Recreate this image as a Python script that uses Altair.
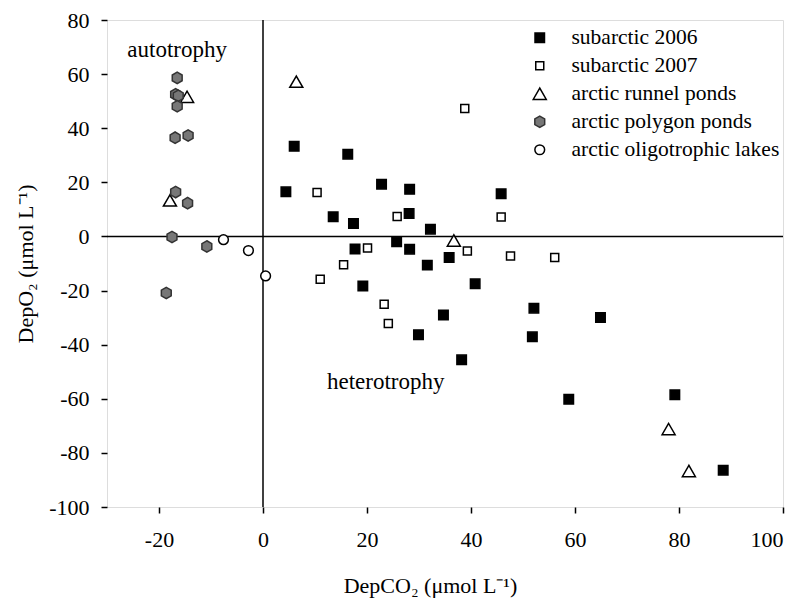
import altair as alt
import pandas as pd

# ---- data ----
series_names = ["subarctic 2006", "subarctic 2007", "arctic runnel ponds",
                "arctic polygon ponds", "arctic oligotrophic lakes"]

s2006_x = [6.0, 16.3, 4.4, 22.8, 28.2, 45.8, 13.5, 17.4, 28.1, 32.2, 25.7, 17.7, 28.2,
           35.8, 31.6, 40.8, 19.2, 34.7, 52.1, 64.9, 51.8, 29.9, 38.2, 58.8, 79.2, 88.5]
s2006_y = [33.3, 30.4, 16.5, 19.3, 17.4, 15.8, 7.3, 4.8, 8.5, 2.7, -2.0, -4.6, -4.7,
           -7.8, -10.6, -17.5, -18.3, -29.0, -26.5, -30.0, -37.1, -36.3, -45.6, -60.2, -58.5, -86.4]

s2007_x = [10.4, 25.8, 45.8, 20.1, 39.3, 47.6, 56.1, 15.5, 11.0, 23.3, 24.1, 38.8]
s2007_y = [16.2, 7.4, 7.2, -4.3, -5.4, -7.2, -7.8, -10.5, -15.8, -25.1, -32.2, 47.3]

runnel_x = [-14.6, -17.9, 6.4, 36.7, 78.0, 81.9]
runnel_y = [51.6, 13.3, 57.2, -1.5, -71.2, -86.7]

polygon_x = [-16.5, -16.8, -16.3, -16.5, -16.9, -14.4, -16.8, -14.5, -17.5, -10.8, -18.6]
polygon_y = [58.6, 52.5, 52.0, 48.1, 36.5, 37.3, 16.4, 12.3, -0.2, -3.7, -20.9]

lakes_x = [-7.6, -2.8, 0.5]
lakes_y = [-1.2, -5.2, -14.6]

x_ticks = [-20, 0, 20, 40, 60, 80, 100]
y_ticks = [-100, -80, -60, -40, -20, 0, 20, 40, 60, 80]

labels_text = ["autotrophy", "heterotrophy"]
labels_x = [-16.5, 23.6]
labels_y = [68.9, -53.9]

# ---- build table ----
rows = []
for name, xs, ys in zip(series_names,
                        [s2006_x, s2007_x, runnel_x, polygon_x, lakes_x],
                        [s2006_y, s2007_y, runnel_y, polygon_y, lakes_y]):
    for xv, yv in zip(xs, ys):
        rows.append({"series": name, "x": xv, "y": yv})
df = pd.DataFrame(rows)

FONT = "Liberation Serif"
FS = 22
W, H = 676, 487

xscale = alt.Scale(domain=[-30, 100], nice=False, zero=False)
yscale = alt.Scale(domain=[-100, 80], nice=False, zero=False)

hexagon = "M0,-1L0.866,-0.5L0.866,0.5L0,1L-0.866,0.5L-0.866,-0.5Z"

legend = alt.Legend(title=None, orient="none", legendX=422, legendY=7,
                    labelFont=FONT, labelFontSize=21.5, labelColor="black",
                    rowPadding=5, labelOffset=21, symbolStrokeWidth=1.5,
                    labelLimit=400)

xaxis = alt.Axis(values=x_ticks, grid=False, domain=False, tickSize=6, tickColor="black",
                 tickWidth=1.5, labelFont=FONT, labelFontSize=FS, labelColor="black",
                 labelPadding=16, labelExpr="'' + datum.value",
                 titleFont=FONT, titleFontSize=FS, titleFontWeight="normal",
                 titleColor="black", titleX=323, titleY=78, titleBaseline="middle",
                 titleAlign="center")
yaxis = alt.Axis(values=y_ticks, grid=False, domain=False, tickSize=6, tickColor="black",
                 tickWidth=1.5, labelFont=FONT, labelFontSize=FS, labelColor="black",
                 labelPadding=12, labelExpr="'' + datum.value",
                 titleFont=FONT, titleFontSize=FS, titleFontWeight="normal",
                 titleColor="black", titleX=-82, titleY=243.5, titleAngle=270,
                 titleBaseline="middle", titleAlign="center")

points = alt.Chart(df).mark_point(filled=True, opacity=1, strokeWidth=1.5).encode(
    x=alt.X("x:Q", scale=xscale, axis=xaxis, title="DepCO₂ (μmol L⁻¹)"),
    y=alt.Y("y:Q", scale=yscale, axis=yaxis, title="DepO₂ (μmol L⁻¹)"),
    shape=alt.Shape("series:N", legend=legend,
                    scale=alt.Scale(domain=series_names,
                                    range=["square", "square", "triangle-up", hexagon, "circle"])),
    fill=alt.Fill("series:N", legend=legend,
                  scale=alt.Scale(domain=series_names,
                                  range=["black", "white", "white", "#777777", "white"])),
    stroke=alt.Stroke("series:N", legend=legend,
                      scale=alt.Scale(domain=series_names,
                                      range=["black", "black", "black", "#333333", "black"])),
    size=alt.Size("series:N", legend=legend,
                  scale=alt.Scale(type="ordinal", domain=series_names,
                                  range=[90, 64, 170, 130, 95])),
)

zero_df_h = pd.DataFrame({"y": [0]})
zero_df_v = pd.DataFrame({"x": [0]})
hline = alt.Chart(zero_df_h).mark_rule(color="black", strokeWidth=1.5).encode(
    y=alt.Y("y:Q", scale=yscale))
vline = alt.Chart(zero_df_v).mark_rule(color="black", strokeWidth=1.5).encode(
    x=alt.X("x:Q", scale=xscale))

text_df = pd.DataFrame({"t": labels_text, "x": labels_x, "y": labels_y})
texts = alt.Chart(text_df).mark_text(font=FONT, fontSize=23, color="black",
                                     baseline="middle", align="center").encode(
    x=alt.X("x:Q", scale=xscale), y=alt.Y("y:Q", scale=yscale), text="t:N")

chart = alt.layer(hline, vline, points, texts).properties(
    width=W, height=H,
    autosize=alt.AutoSizeParams(type="none"),
    padding={"left": 107, "top": 20, "right": 19, "bottom": 99},
).configure_view(stroke="black", strokeWidth=2).configure(background="white")

chart.save("out.html", embed_options={"renderer": "svg", "actions": False})
